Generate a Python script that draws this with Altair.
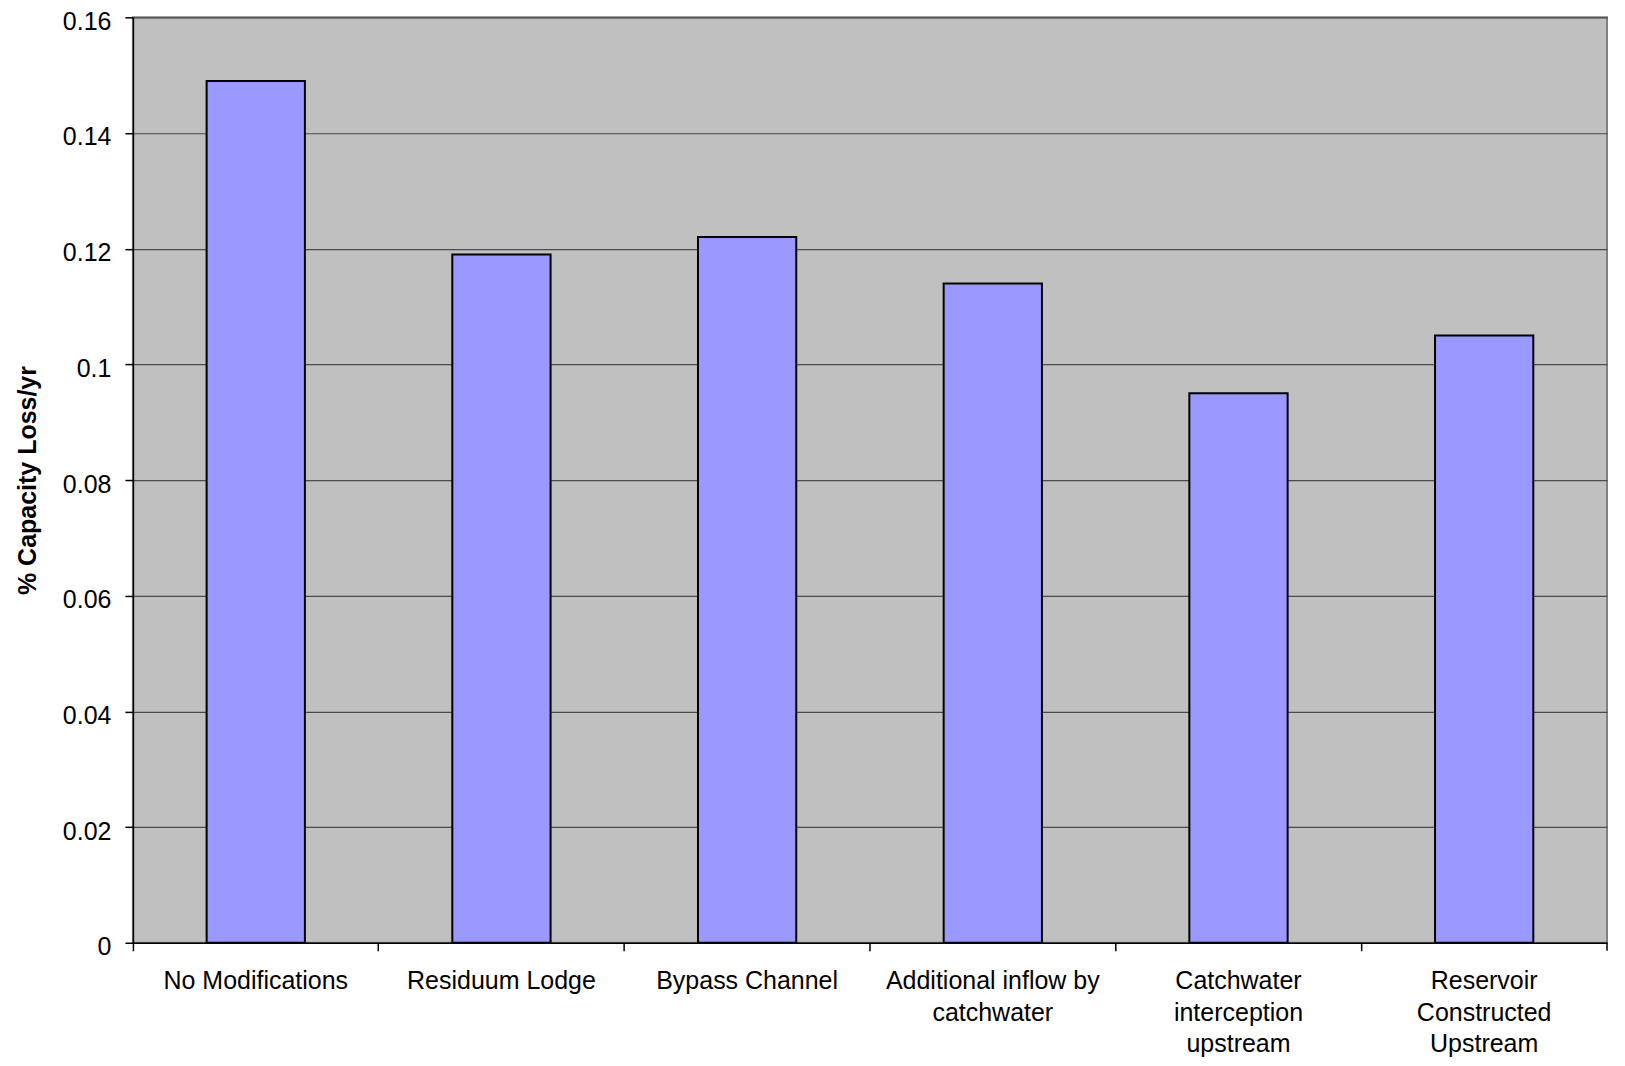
import altair as alt
import pandas as pd

categories = [
    "No Modifications",
    "Residuum Lodge",
    "Bypass Channel",
    "Additional inflow by\ncatchwater",
    "Catchwater\ninterception\nupstream",
    "Reservoir\nConstructed\nUpstream",
]
values = [0.149, 0.119, 0.122, 0.114, 0.095, 0.105]
y_ticks = [0, 0.02, 0.04, 0.06, 0.08, 0.10, 0.12, 0.14, 0.16]

df = pd.DataFrame({"scenario": categories, "loss": values})

W, H = 1475, 926
FONT = "Liberation Sans"

bars = alt.Chart(df).mark_bar(
    color="#9999ff", stroke="black", strokeWidth=2, width=alt.RelativeBandSize(0.4)
).encode(
    x=alt.X(
        "scenario:N",
        sort=categories,
        scale=alt.Scale(paddingInner=0, paddingOuter=0),
        axis=alt.Axis(
            title=None,
            labelAngle=0,
            bandPosition=0,
            labelExpr="split(datum.value, '\\n')",
            labelFont=FONT,
            labelFontSize=25,
            labelColor="black",
            labelLineHeight=31.5,
            labelPadding=18,
            labelLimit=0,
            labelOverlap=False,
            labelAlign="center",
            tickSize=8,
            tickColor="black",
            tickWidth=1.5,
            domainColor="black",
            domainWidth=1.5,
            grid=False,
        ),
    ),
    y=alt.Y(
        "loss:Q",
        scale=alt.Scale(domain=[0, 0.16], nice=False),
        axis=alt.Axis(
            values=y_ticks,
            format="~g",
            title="% Capacity Loss/yr",
            titleFont=FONT,
            titleFontSize=25,
            titleFontWeight="bold",
            titleColor="black",
            titleAngle=270,
            titleX=-105,
            titleY=H / 2,
            titleAlign="center",
            titleBaseline="middle",
            labelFont=FONT,
            labelFontSize=25,
            labelColor="black",
            labelPadding=14,
            labelOffset=4,
            tickSize=8,
            tickColor="black",
            tickWidth=1.5,
            domainColor="black",
            domainWidth=1.5,
            grid=True,
            gridColor="#4a4a4a",
            gridWidth=1.2,
        ),
    ),
)

end_tick = alt.Chart(pd.DataFrame({"k": [0]})).mark_rule(color="black", strokeWidth=1.5).encode(
    x=alt.value(W), y=alt.value(H), y2=alt.value(H + 8)
)

chart = (
    alt.layer(bars, end_tick)
    .properties(
        width=W,
        height=H,
        background="white",
        autosize=alt.AutoSizeParams(type="none"),
        padding={"left": 125, "top": 9, "right": 10, "bottom": 114},
    )
    .configure_view(fill="#c0c0c0", stroke="#808080", strokeWidth=2)
)

chart.save("out.html", embed_options={"renderer": "svg", "actions": False})
